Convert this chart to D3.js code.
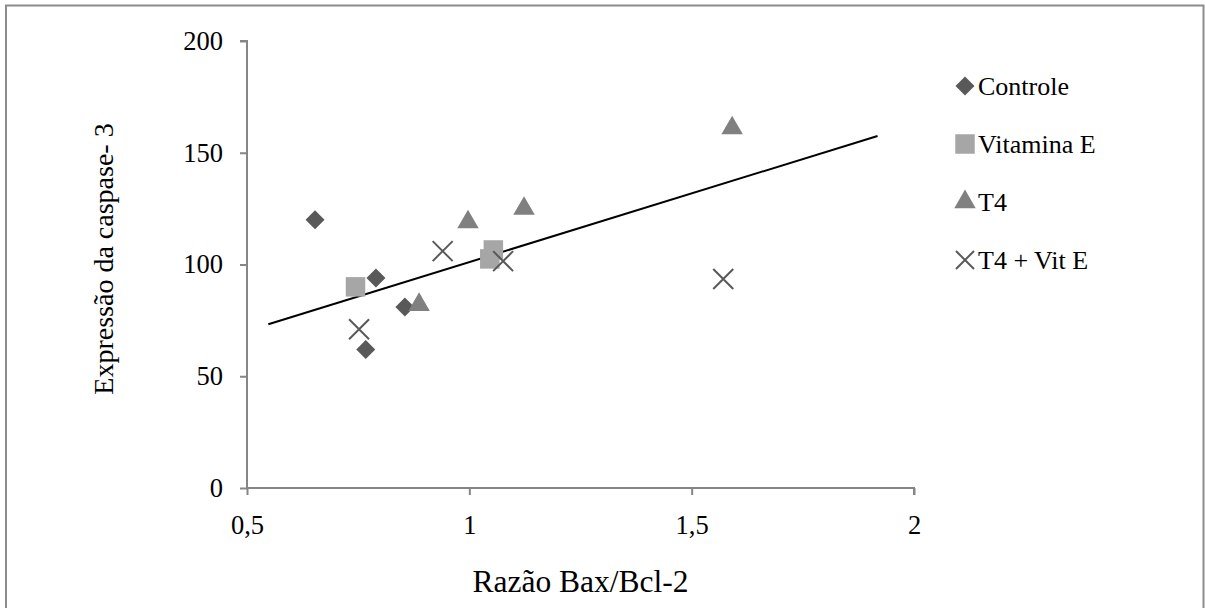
<!DOCTYPE html>
<html>
<head>
<meta charset="utf-8">
<script src="https://cdn.jsdelivr.net/npm/d3@7"></script>
<style>
  body { margin: 0; background: #fff; }
  svg text { font-family: "Liberation Serif", "Tinos", "Times New Roman", "Nimbus Roman", "DejaVu Serif", serif !important; fill: #000; }
</style>
</head>
<body>
<div id="chart"></div>
<script>
const w = 1205;
const h = 608;

// data
const seriesNames = ['Controle', 'Vitamina E', 'T4', 'T4 + Vit E'];
const controleX = [0.653, 0.790, 0.767, 0.855];
const controleY = [120, 94, 62, 81];
const vitEX = [0.744, 1.054, 1.046];
const vitEY = [90, 106.5, 102.5];
const t4X = [0.887, 0.997, 1.123, 1.591];
const t4Y = [82, 119, 125, 161];
const t4vitX = [0.752, 0.940, 1.076, 1.571];
const t4vitY = [71, 106, 101.5, 93.5];
const trendX = [0.548, 1.918];
const trendY = [73.3, 157.5];
const xTicks = [0.5, 1, 1.5, 2];
const yTicks = [0, 50, 100, 150, 200];

const plot = { left: 247, right: 914, top: 41, bottom: 488 };

const svg = d3.select('#chart')
    .append('svg')
    .attr('width', w)
    .attr('height', h);

// outer frame
svg.append('rect')
    .attr('x', 6)
    .attr('y', 5.5)
    .attr('width', 1197.5)
    .attr('height', 620)
    .attr('fill', 'none')
    .attr('stroke', '#8c8c8c')
    .attr('stroke-width', 2);

const xScale = d3.scaleLinear().domain([0.5, 2]).range([plot.left, plot.right]);
const yScale = d3.scaleLinear().domain([0, 200]).range([plot.bottom, plot.top]);

const ptBR = d3.formatLocale({ decimal: ',', thousands: '.', grouping: [3], currency: ['R$', ''] });

const xAxis = d3.axisBottom(xScale).tickValues(xTicks).tickSize(7).tickPadding(20).tickFormat(ptBR.format('~g'));
const yAxis = d3.axisLeft(yScale).tickValues(yTicks).tickSize(7).tickPadding(17);

const gx = svg.append('g')
    .attr('transform', 'translate(0,' + plot.bottom + ')')
    .call(xAxis);
const gy = svg.append('g')
    .attr('transform', 'translate(' + plot.left + ',0)')
    .call(yAxis);

[gx, gy].forEach(g => {
    g.attr('font-family', null).attr('font-size', null);
    g.select('.domain').attr('stroke', '#868686').attr('stroke-width', 2);
    g.selectAll('.tick line').attr('stroke', '#868686').attr('stroke-width', 2);
    g.selectAll('.tick text')
        .style('font-size', '26.5px')
        .attr('fill', '#000');
});
gy.select('.domain').attr('d', 'M-7,' + plot.top + 'H0V' + plot.bottom);
gx.select('.domain').attr('d', 'M' + plot.left + ',0H' + plot.right + 'V7');

// trend line
svg.append('path')
    .datum(trendX.map((x, i) => [x, trendY[i]]))
    .attr('fill', 'none')
    .attr('stroke', '#000')
    .attr('stroke-width', 2)
    .attr('d', d3.line().x(d => xScale(d[0])).y(d => yScale(d[1])));

const zip = (xs, ys) => xs.map((x, i) => ({ x: x, y: ys[i] }));

const markers = {
    'Controle': { sym: d3.symbolDiamond2, size: 230, fill: '#595959' },
    'Vitamina E': { sym: d3.symbolSquare, size: 380, fill: '#a6a6a6' },
    'T4': { sym: d3.symbolTriangle, size: 200, fill: '#808080' },
    'T4 + Vit E': { stroke: '#595959' }
};

const drawMarker = (sel, name) => {
    const m = markers[name];
    if (name === 'T4 + Vit E') {
        sel.append('path')
            .attr('d', 'M-10,-10L10,10M-10,10L10,-10')
            .attr('fill', 'none')
            .attr('stroke', m.stroke)
            .attr('stroke-width', 2);
    } else {
        sel.append('path')
            .attr('d', d3.symbol(m.sym, m.size)())
            .attr('fill', m.fill);
    }
};

const seriesData = [
    zip(controleX, controleY),
    zip(vitEX, vitEY),
    zip(t4X, t4Y),
    zip(t4vitX, t4vitY)
];

seriesNames.forEach((name, i) => {
    svg.append('g')
        .selectAll('g')
        .data(seriesData[i])
        .enter()
        .append('g')
        .attr('transform', d => 'translate(' + xScale(d.x) + ',' + yScale(d.y) + ')')
        .each(function () { drawMarker(d3.select(this), name); });
});

// legend
const legend = svg.append('g').attr('transform', 'translate(965,86)');
seriesNames.forEach((name, i) => {
    const row = legend.append('g').attr('transform', 'translate(0,' + (i * 58) + ')');
    const mk = row.append('g');
    drawMarker(mk, name);
    if (name === 'T4 + Vit E') {
        mk.select('path').attr('d', 'M-9,-9L9,9M-9,9L9,-9');
    }
    row.append('text')
        .attr('x', 13)
        .attr('y', 9)
        .style('font-size', '26px')
        .text(name);
});

// axis titles
svg.append('text')
    .attr('x', (plot.left + plot.right) / 2)
    .attr('y', 592)
    .attr('text-anchor', 'middle')
    .style('font-size', '31.5px')
    .text('Razão Bax/Bcl-2');

svg.append('text')
    .attr('transform', 'translate(113,259) rotate(-90)')
    .attr('text-anchor', 'middle')
    .style('font-size', '28px')
    .text('Expressão da caspase- 3');
</script>
</body>
</html>
